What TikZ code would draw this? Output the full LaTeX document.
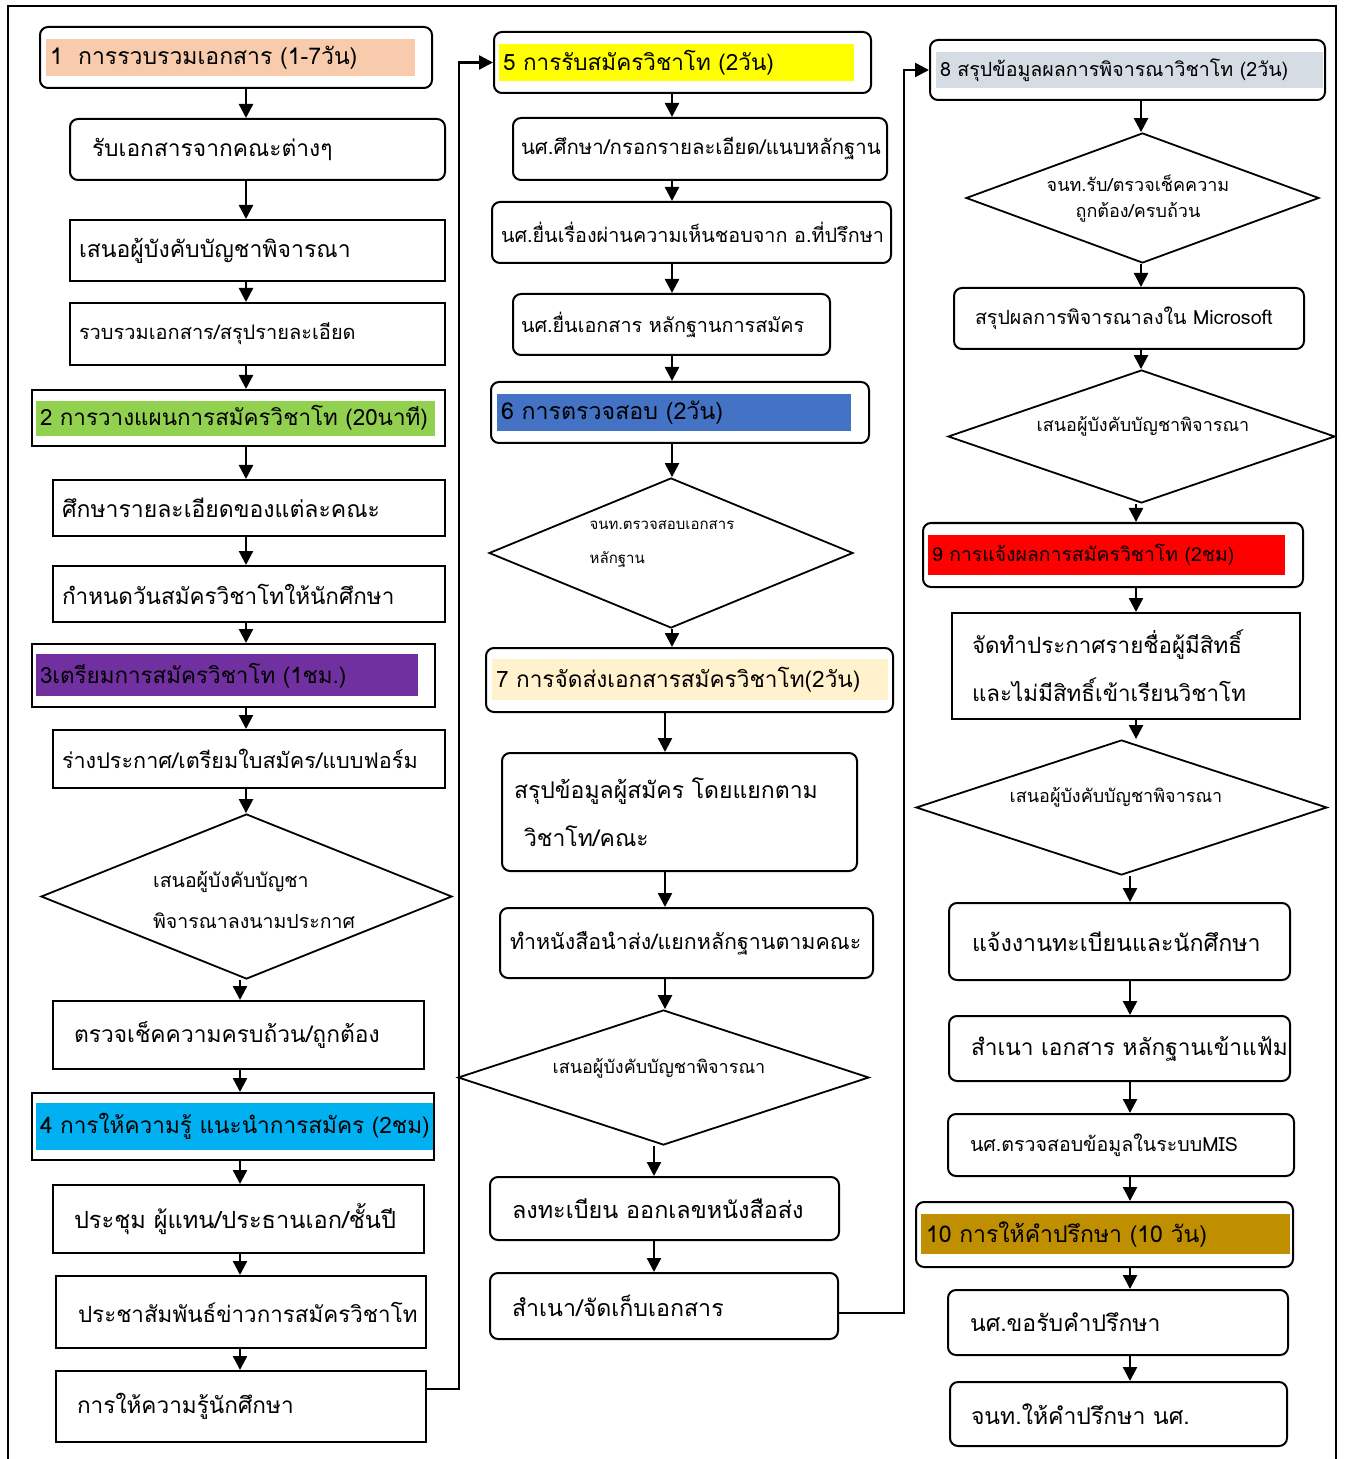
\documentclass[tikz,border=0pt]{standalone}
\usepackage{fontspec}
\newfontfamily\thai[Script=Thai]{Loma}
\usetikzlibrary{positioning, shapes.geometric, arrows.meta}

\definecolor{peach}{HTML}{F8CBAD}
\definecolor{lgreen}{HTML}{92D050}
\definecolor{violet}{HTML}{7030A0}
\definecolor{sky}{HTML}{00B0F0}
\definecolor{lemon}{HTML}{FFFF00}
\definecolor{steel}{HTML}{4472C4}
\definecolor{cream}{HTML}{FFF2CC}
\definecolor{mist}{HTML}{D6DCE4}
\definecolor{alert}{HTML}{FF0000}
\definecolor{gold}{HTML}{BF8F00}

\begin{document}
\hyphenpenalty=10000
\begin{tikzpicture}[
    x=0.5pt, y=-0.5pt,
    box/.style={rectangle, draw, line width=1pt, align=left, inner ysep=0pt, font=\thai\fontsize{12}{16}\selectfont},
    rbox/.style={box, rounded corners=4pt},
    sz/.style n args={4}{minimum width=#1pt, minimum height=#2pt, inner xsep=#3pt, text width=#4pt},
    fs/.style={font=\thai\fontsize{#1}{16}\selectfont},
    dec/.style={diamond, draw, line width=0.9pt, inner sep=0pt},
    dtext/.style={align=left, inner sep=0pt, font=\thai\fontsize{9}{20}\selectfont},
    arrow/.style={-{Triangle[length=7pt, width=7pt]}, line width=1.2pt},
    line/.style={line width=1.2pt}
]
\useasboundingbox (0,0) rectangle (1346,1459);

% Outer frame
\draw[line width=1pt] (8,1459) -- (8,6) -- (1336,6) -- (1336,1459);

% Highlight bands of the stage titles
\fill[peach] (46,39) rectangle (415,76);
\fill[lgreen] (36,401) rectangle (435,436);
\fill[violet] (36,654) rectangle (418,696);
\fill[sky] (36,1103) rectangle (433,1150);
\fill[lemon] (499,44) rectangle (854,81);
\fill[steel] (497,394) rectangle (851,431);
\fill[cream] (492,659) rectangle (888,700);
\fill[mist] (936,52) rectangle (1323,88);
\fill[alert] (928,535) rectangle (1285,575);
\fill[gold] (921,1214) rectangle (1290,1254);

% Column 1
\node[rbox, fs=11.5, sz={196}{30.5}{5}{186}] (s1) at (236,57.5) {1~~การรวบรวมเอกสาร~(1-7วัน)};
\node[rbox, fs=11.4, sz={187.5}{30.5}{11}{165.5}] (b1) at (257.5,149.5) {รับเอกสารจากคณะต่างๆ};
\node[box, fs=11.5, sz={187.5}{30.5}{4.5}{178.5}] (b2) at (257.5,250.5) {เสนอผู้บังคับบัญชาพิจารณา};
\node[box, fs=10, sz={187.5}{31}{4.5}{178.5}] (b3) at (257.5,334) {รวบรวมเอกสาร/สรุปรายละเอียด};
\node[box, fs=11.2, sz={206.5}{28}{4}{198.5}] (s2) at (238.5,418) {2~การวางแผนการสมัครวิชาโท~(20นาที)};
\node[box, fs=11.5, sz={196}{28}{4.5}{187}] (b4) at (249,508) {ศึกษารายละเอียดของแต่ละคณะ};
\node[box, fs=11.25, sz={196}{28}{4.5}{187}] (b5) at (249,594) {กำหนดวันสมัครวิชาโทให้นักศึกษา};
\node[box, fs=11.2, sz={201.5}{31.5}{4}{193.5}] (s3) at (233.5,675.5) {3เตรียมการสมัครวิชาโท~(1ชม.)};
\node[box, fs=10.8, sz={196}{29}{4.5}{187}] (b6) at (249,759) {ร่างประกาศ/เตรียมใบสมัคร/แบบฟอร์ม};
\node[dec, minimum width=205.5pt, minimum height=82.5pt] (d1) at (246.5,896.5) {};
\node[dtext, font=\thai\fontsize{9.75}{20.5}\selectfont] (d1t) at (254,900) {เสนอผู้บังคับบัญชา\\พิจารณาลงนามประกาศ};
\node[box, fs=11.4, sz={185.5}{34}{10.5}{164.5}] (b7) at (238.5,1035) {ตรวจเช็คความครบถ้วน/ถูกต้อง};
\node[box, fs=11.3, sz={201}{33.5}{4}{193}] (s4) at (233,1126.5) {4~การให้ความรู้~แนะนำการสมัคร~(2ชม)};
\node[box, fs=11.8, sz={185.5}{34}{10.5}{164.5}] (b8) at (238.5,1219) {ประชุม~ผู้แทน/ประธานเอก/ชั้นปี};
\node[box, fs=11.2, sz={185}{36}{11}{163}] (b9) at (241,1312) {ประชาสัมพันธ์ข่าวการสมัครวิชาโท};
\node[box, fs=11.3, sz={185}{35.5}{10.5}{164}] (b10) at (241,1406.5) {การให้ความรู้นักศึกษา};

% Column 2
\node[rbox, fs=11.25, sz={188.5}{30.5}{4.5}{179.5}] (s5) at (682.5,62.5) {5~การรับสมัครวิชาโท~(2วัน)};
\node[rbox, fs=10.2, sz={187}{31}{4}{179}] (c1) at (700,149) {นศ.ศึกษา/กรอกรายละเอียด/แนบหลักฐาน};
\node[rbox, fs=9.9, sz={199.5}{30.5}{4.5}{190.5}] (c2) at (691.5,232.5) {นศ.ยื่นเรื่องผ่านความเห็นชอบจาก~อ.ที่ปรึกษา};
\node[rbox, fs=9.9, sz={158.5}{30.5}{4}{150.5}] (c3) at (671.5,324.5) {นศ.ยื่นเอกสาร~หลักฐานการสมัคร};
\node[rbox, fs=11.6, sz={189}{30.5}{5}{179}] (s6) at (680,412.5) {6~การตรวจสอบ~(2วัน)};
\node[dec, minimum width=182pt, minimum height=75pt] (d2) at (671,553) {};
\node[dtext, font=\thai\fontsize{7.5}{17}\selectfont] (d2t) at (662,544) {จนท.ตรวจสอบเอกสาร\\หลักฐาน};
\node[rbox, fs=11.3, sz={203.5}{32}{5}{193.5}] (s7) at (689.5,680) {7~การจัดส่งเอกสารสมัครวิชาโท(2วัน)};
\node[rbox, fs=11.5, sz={177.5}{59}{6}{165.5}] (c4) at (679.5,812) {สรุปข้อมูลผู้สมัคร~โดยแยกตาม\\[8pt]\hspace*{5pt}วิชาโท/คณะ};
\node[rbox, fs=10.7, sz={186.5}{35}{5}{176.5}] (c5) at (686.5,943) {ทำหนังสือนำส่ง/แยกหลักฐานตามคณะ};
\node[dec, minimum width=205.5pt, minimum height=67.5pt] (d3) at (663.5,1077.5) {};
\node[dtext] (d3t) at (659,1068) {เสนอผู้บังคับบัญชาพิจารณา};
\node[rbox, fs=11.7, sz={174.5}{31.5}{11}{152.5}] (c6) at (664.5,1208.5) {ลงทะเบียน~ออกเลขหนังสือส่ง};
\node[rbox, fs=11.6, sz={174}{33}{11}{152}] (c7) at (664,1306) {สำเนา/จัดเก็บเอกสาร};

% Column 3
\node[rbox, fs=9.8, sz={197.5}{30}{5}{187.5}] (s8) at (1127.5,70) {8~สรุปข้อมูลผลการพิจารณาวิชาโท~(2วัน)};
\node[dec, minimum width=176.5pt, minimum height=65pt] (d4) at (1142.5,198) {};
\node[dtext, align=center, font=\thai\fontsize{9}{13}\selectfont] (d4t) at (1138,199) {จนท.รับ/ตรวจเช็คความ\\ถูกต้อง/ครบถ้วน};
\node[rbox, fs=9.8, sz={175}{30.5}{10.5}{154}] (e1) at (1129,318.5) {สรุปผลการพิจารณาลงใน~Microsoft};
\node[dec, minimum width=193.5pt, minimum height=66.5pt] (d5) at (1141.5,436.5) {};
\node[dtext] (d5t) at (1143,426) {เสนอผู้บังคับบัญชาพิจารณา};
\node[rbox, fs=9.7, sz={190}{32}{4.5}{181}] (s9) at (1113,555) {9~การแจ้งผลการสมัครวิชาโท~(2ชม)};
\node[box, fs=11.2, sz={174}{53}{10}{154}] (e2) at (1126,666) {จัดทำประกาศรายชื่อผู้มีสิทธิ์\\[8pt]และไม่มีสิทธิ์เข้าเรียนวิชาโท};
\node[dec, minimum width=205.5pt, minimum height=67.5pt] (d6) at (1121.5,807.5) {};
\node[dtext] (d6t) at (1116,797) {เสนอผู้บังคับบัญชาพิจารณา};
\node[rbox, fs=11.6, sz={170.5}{38.5}{11.5}{147.5}] (e3) at (1119.5,941.5) {แจ้งงานทะเบียนและนักศึกษา};
\node[rbox, fs=11.35, sz={170.5}{32.5}{11}{148.5}] (e4) at (1119.5,1048.5) {สำเนา~เอกสาร~หลักฐานเข้าแฟ้ม};
\node[rbox, fs=9.8, sz={173}{31}{11}{151}] (e5) at (1121,1145) {นศ.ตรวจสอบข้อมูลในระบบMIS};
\node[rbox, fs=11.5, sz={188.5}{32.5}{5}{178.5}] (s10) at (1104.5,1234.5) {10~การให้คำปรึกษา~(10~วัน)};
\node[rbox, fs=11.5, sz={170}{32.5}{11}{148}] (e6) at (1118,1322.5) {นศ.ขอรับคำปรึกษา};
\node[rbox, fs=11.5, sz={168.5}{32}{10.5}{147.5}] (e7) at (1118.5,1414) {จนท.ให้คำปรึกษา~นศ.};

% Arrow columns
\coordinate (a1) at (246,0);
\coordinate (a2) at (240,0);
\coordinate (a3) at (672,0);
\coordinate (a4) at (665,0);
\coordinate (a5) at (654,0);
\coordinate (a6) at (1141,0);
\coordinate (a7) at (1136,0);
\coordinate (a8) at (1130,0);

% Connections, column 1
\draw[arrow] (s1.south -| a1) -- (b1.north -| a1);
\draw[arrow] (b1.south -| a1) -- (b2.north -| a1);
\draw[arrow] (b2.south -| a1) -- (b3.north -| a1);
\draw[arrow] (b3.south -| a1) -- (s2.north -| a1);
\draw[arrow] (s2.south -| a1) -- (b4.north -| a1);
\draw[arrow] (b4.south -| a1) -- (b5.north -| a1);
\draw[arrow] (b5.south -| a1) -- (s3.north -| a1);
\draw[arrow] (s3.south -| a1) -- (b6.north -| a1);
\draw[arrow] (b6.south -| a1) -- (d1.north -| a1);
\draw[arrow] (d1.south -| a2) -- (b7.north -| a2);
\draw[arrow] (b7.south -| a2) -- (s4.north -| a2);
\draw[arrow] (s4.south -| a2) -- (b8.north -| a2);
\draw[arrow] (b8.south -| a2) -- (b9.north -| a2);
\draw[arrow] (b9.south -| a2) -- (b10.north -| a2);

% Connections, column 2
\draw[arrow] (s5.south -| a3) -- (c1.north -| a3);
\draw[arrow] (c1.south -| a3) -- (c2.north -| a3);
\draw[arrow] (c2.south -| a3) -- (c3.north -| a3);
\draw[arrow] (c3.south -| a3) -- (s6.north -| a3);
\draw[arrow] (s6.south -| a3) -- (d2.north -| a3);
\draw[arrow] (d2.south -| a3) -- (s7.north -| a3);
\draw[arrow] (s7.south -| a4) -- (c4.north -| a4);
\draw[arrow] (c4.south -| a4) -- (c5.north -| a4);
\draw[arrow] (c5.south -| a4) -- (d3.north -| a4);
\draw[arrow] (d3.south -| a5) -- (c6.north -| a5);
\draw[arrow] (c6.south -| a5) -- (c7.north -| a5);

% Connections, column 3
\draw[arrow] (s8.south -| a6) -- (d4.north -| a6);
\draw[arrow] (d4.south -| a6) -- (e1.north -| a6);
\draw[arrow] (e1.south -| a6) -- (d5.north -| a6);
\draw[arrow] (d5.south -| a7) -- (s9.north -| a7);
\draw[arrow] (s9.south -| a7) -- (e2.north -| a7);
\draw[arrow] (e2.south -| a7) -- (d6.north -| a7);
\draw[arrow] (d6.south -| a8) -- (e3.north -| a8);
\draw[arrow] (e3.south -| a8) -- (e4.north -| a8);
\draw[arrow] (e4.south -| a8) -- (e5.north -| a8);
\draw[arrow] (e5.south -| a8) -- (s10.north -| a8);
\draw[arrow] (s10.south -| a8) -- (e6.north -| a8);
\draw[arrow] (e6.south -| a8) -- (e7.north -| a8);

% Links between the columns
\coordinate (jA) at (459,1389);
\coordinate (jB) at (904,1313);
\draw[arrow] (b10.east |- jA) -- (jA) |- (s5.west);
\draw[arrow] (c7.east |- jB) -- (jB) |- (s8.west);

\end{tikzpicture}
\end{document}
